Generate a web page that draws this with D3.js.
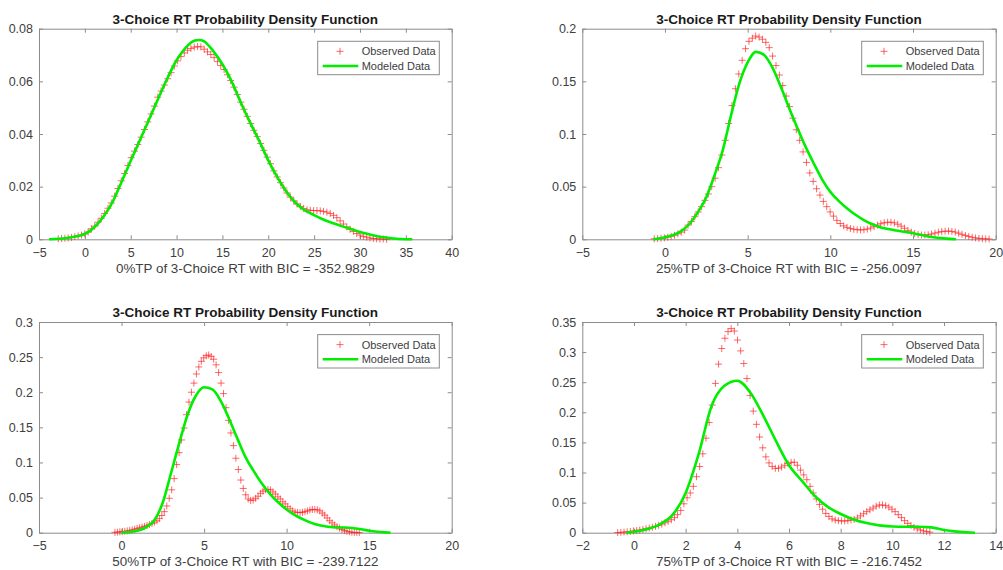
<!DOCTYPE html>
<html>
<head>
<meta charset="utf-8">
<script src="https://cdn.jsdelivr.net/npm/d3@7"></script>
<style>
  body { margin: 0; background: #fff; }
  svg text { font-family: "Liberation Sans", Arial, sans-serif; }
</style>
</head>
<body>
<svg id="chart" width="1003" height="570"></svg>
<script>
// ---- data ----
const chartTitle = "3-Choice RT Probability Density Function";
const legendLabels = ["Observed Data", "Modeled Data"];
const xLabels = [
  "0%TP of 3-Choice RT with BIC = -352.9829",
  "25%TP of 3-Choice RT with BIC = -256.0097",
  "50%TP of 3-Choice RT with BIC = -239.7122",
  "75%TP of 3-Choice RT with BIC = -216.7452"
];

// x ticks / y ticks per panel
const xTicks1 = [-5, 0, 5, 10, 15, 20, 25, 30, 35, 40];
const xTicks2 = [-5, 0, 5, 10, 15, 20];
const xTicks3 = [-5, 0, 5, 10, 15, 20];
const xTicks4 = [-2, 0, 2, 4, 6, 8, 10, 12, 14];
const yTicks1 = [0, 0.02, 0.04, 0.06, 0.08];
const yTicks2 = [0, 0.05, 0.1, 0.15, 0.2];
const yTicks3 = [0, 0.05, 0.1, 0.15, 0.2, 0.25, 0.3];
const yTicks4 = [0, 0.05, 0.1, 0.15, 0.2, 0.25, 0.3, 0.35];

// observed density: evenly spaced grid [first x, last x] + 100 y values
const obsRange1 = [-2.9, 32.9];
const obsY1 = [
  0.0002, 0.0003, 0.0004, 0.0005, 0.0007,
  0.0010, 0.0013, 0.0016, 0.0021, 0.0027,
  0.0040, 0.0050, 0.0065, 0.0080, 0.0098,
  0.0118, 0.0138, 0.0164, 0.0193, 0.0222,
  0.0250, 0.0280, 0.0310, 0.0335, 0.0360,
  0.0388, 0.0417, 0.0446, 0.0476, 0.0506,
  0.0540, 0.0563, 0.0586, 0.0610, 0.0633,
  0.0658, 0.0678, 0.0694, 0.0708, 0.0718,
  0.0725, 0.0730, 0.0732, 0.0731, 0.0722,
  0.0712, 0.0702, 0.0690, 0.0675, 0.0660,
  0.0645, 0.0625, 0.0603, 0.0578, 0.0550,
  0.0521, 0.0494, 0.0467, 0.0440, 0.0414,
  0.0390, 0.0364, 0.0338, 0.0312, 0.0287,
  0.0260, 0.0237, 0.0215, 0.0195, 0.0176,
  0.0160, 0.0146, 0.0134, 0.0125, 0.0117,
  0.0112, 0.0110, 0.0109, 0.0109, 0.0108,
  0.0106, 0.0103, 0.0098, 0.0091, 0.0082,
  0.0070, 0.0058, 0.0047, 0.0038, 0.0030,
  0.0022, 0.0016, 0.0011, 0.0008, 0.0005,
  0.0003, 0.0002, 0.0001, 0.0001, 0.0000
];
const obsRange2 = [-0.65, 19.6];
const obsY2 = [
  0.0005, 0.0007, 0.0010, 0.0014, 0.0020,
  0.0028, 0.0038, 0.0052, 0.0068, 0.0088,
  0.0135, 0.0170, 0.0215, 0.0260, 0.0310,
  0.0370, 0.0430, 0.0500, 0.0580, 0.0680,
  0.0800, 0.0940, 0.1100, 0.1270, 0.1430,
  0.1570, 0.1700, 0.1810, 0.1880, 0.1910,
  0.1930, 0.1920, 0.1900, 0.1870, 0.1820,
  0.1740, 0.1650, 0.1560, 0.1460, 0.1360,
  0.1260, 0.1150, 0.1040, 0.0940, 0.0830,
  0.0730, 0.0630, 0.0550, 0.0480, 0.0420,
  0.0360, 0.0310, 0.0260, 0.0220, 0.0180,
  0.0150, 0.0128, 0.0113, 0.0102, 0.0095,
  0.0091, 0.0089, 0.0091, 0.0097, 0.0107,
  0.0120, 0.0135, 0.0148, 0.0157, 0.0162,
  0.0162, 0.0156, 0.0143, 0.0125, 0.0105,
  0.0085, 0.0068, 0.0055, 0.0046, 0.0041,
  0.0040, 0.0043, 0.0050, 0.0059, 0.0067,
  0.0073, 0.0077, 0.0078, 0.0075, 0.0068,
  0.0058, 0.0047, 0.0036, 0.0027, 0.0019,
  0.0013, 0.0009, 0.0006, 0.0004, 0.0003
];
const obsRange3 = [-0.4, 14.4];
const obsY3 = [
  0.0005, 0.0008, 0.0012, 0.0016, 0.0020,
  0.0026, 0.0033, 0.0041, 0.0050, 0.0060,
  0.0070, 0.0080, 0.0090, 0.0102, 0.0115,
  0.0132, 0.0150, 0.0170, 0.0200, 0.0245,
  0.0300, 0.0380, 0.0490, 0.0610, 0.0770,
  0.0970, 0.1140, 0.1320, 0.1490, 0.1680,
  0.1860, 0.2000, 0.2130, 0.2260, 0.2360,
  0.2440, 0.2490, 0.2520, 0.2530, 0.2510,
  0.2470, 0.2390, 0.2280, 0.2130, 0.1980,
  0.1780, 0.1600, 0.1420, 0.1240, 0.1060,
  0.0900, 0.0750, 0.0630, 0.0540, 0.0480,
  0.0460, 0.0465, 0.0490, 0.0520, 0.0560,
  0.0590, 0.0610, 0.0617, 0.0610, 0.0580,
  0.0550, 0.0510, 0.0480, 0.0440, 0.0410,
  0.0370, 0.0340, 0.0310, 0.0295, 0.0288,
  0.0285, 0.0290, 0.0300, 0.0310, 0.0322,
  0.0330, 0.0332, 0.0325, 0.0310, 0.0280,
  0.0250, 0.0210, 0.0170, 0.0140, 0.0110,
  0.0085, 0.0065, 0.0045, 0.0030, 0.0020,
  0.0012, 0.0007, 0.0004, 0.0002, 0.0001
];
const obsRange4 = [-0.63, 11.45];
const obsY4 = [
  0.0003, 0.0006, 0.0010, 0.0015, 0.0020,
  0.0030, 0.0037, 0.0045, 0.0055, 0.0066,
  0.0078, 0.0090, 0.0105, 0.0123, 0.0143,
  0.0165, 0.0190, 0.0215, 0.0250, 0.0300,
  0.0370, 0.0480, 0.0580, 0.0660, 0.0770,
  0.0930, 0.1100, 0.1310, 0.1570, 0.1830,
  0.2120, 0.2480, 0.2800, 0.3060, 0.3230,
  0.3340, 0.3390, 0.3350, 0.3200, 0.3020,
  0.2810, 0.2560, 0.2280, 0.2020, 0.1800,
  0.1590, 0.1410, 0.1260, 0.1160, 0.1100,
  0.1070, 0.1070, 0.1090, 0.1120, 0.1150,
  0.1170, 0.1170, 0.1120, 0.1040, 0.0960,
  0.0880, 0.0770, 0.0660, 0.0560, 0.0470,
  0.0390, 0.0320, 0.0270, 0.0230, 0.0210,
  0.0200, 0.0195, 0.0195, 0.0200, 0.0210,
  0.0220, 0.0245, 0.0280, 0.0315, 0.0350,
  0.0380, 0.0410, 0.0440, 0.0460, 0.0460,
  0.0450, 0.0425, 0.0390, 0.0350, 0.0300,
  0.0250, 0.0200, 0.0155, 0.0120, 0.0088,
  0.0065, 0.0045, 0.0030, 0.0018, 0.0010
];

// modeled density curves
const modX1 = [-3.9, -2, -1, 0, 1, 2, 3, 4, 5, 6, 7, 8, 9, 10, 11, 12, 12.5, 13, 14, 15, 16, 17, 18, 19, 20, 21, 22, 23, 24, 25, 26, 27, 28, 29, 30, 31, 32, 33, 34, 35.7];
const modY1 = [0, 0.0005, 0.0011, 0.002, 0.0045, 0.0085, 0.014, 0.0218, 0.0298, 0.0376, 0.0455, 0.0535, 0.0612, 0.068, 0.0728, 0.0755, 0.0757, 0.0752, 0.0715, 0.0665, 0.060, 0.052, 0.0445, 0.0375, 0.030, 0.0235, 0.018, 0.0138, 0.011, 0.0092, 0.0075, 0.0062, 0.005, 0.0039, 0.0028, 0.0019, 0.0011, 0.0006, 0.0002, 0];
const modX2 = [-0.7, 0, 0.5, 1, 1.5, 2, 2.5, 3, 3.5, 4, 4.5, 5, 5.5, 6, 6.5, 7, 7.5, 8, 8.5, 9, 9.5, 10, 10.5, 11, 11.5, 12, 12.5, 13, 13.5, 14, 15, 16, 17, 17.6];
const modY2 = [0, 0.002, 0.004, 0.008, 0.015, 0.026, 0.040, 0.061, 0.085, 0.118, 0.148, 0.168, 0.178, 0.175, 0.163, 0.145, 0.125, 0.106, 0.088, 0.072, 0.057, 0.045, 0.0365, 0.0295, 0.0235, 0.0185, 0.0145, 0.0115, 0.0097, 0.0083, 0.0058, 0.0025, 0.0006, 0];
const modX3 = [0, 0.5, 1, 1.5, 2, 2.5, 3, 3.5, 4, 4.5, 5, 5.5, 6, 6.5, 7, 7.5, 8, 8.5, 9, 9.5, 10, 10.5, 11, 11.5, 12, 12.5, 13, 13.5, 14, 14.5, 15, 15.5, 16, 16.3];
const modY3 = [0, 0.001, 0.003, 0.008, 0.018, 0.043, 0.085, 0.128, 0.168, 0.195, 0.207, 0.204, 0.188, 0.163, 0.135, 0.108, 0.088, 0.07, 0.055, 0.043, 0.033, 0.025, 0.019, 0.014, 0.0105, 0.0085, 0.0075, 0.0075, 0.0068, 0.005, 0.0028, 0.0013, 0.0004, 0];
const modX4 = [-0.3, 0, 0.5, 1, 1.5, 2, 2.5, 3, 3.5, 4, 4.5, 5, 5.5, 6, 6.5, 7, 7.5, 8, 8.5, 9, 9.5, 10, 10.5, 11, 11.5, 12, 12.5, 13, 13.2];
const modY4 = [0, 0.0017, 0.0058, 0.014, 0.030, 0.066, 0.130, 0.210, 0.244, 0.2525, 0.233, 0.195, 0.152, 0.112, 0.086, 0.061, 0.043, 0.031, 0.022, 0.016, 0.0122, 0.0102, 0.0098, 0.0098, 0.0088, 0.0044, 0.0018, 0.0003, 0];

// ---- layout ----
const svg = d3.select("#chart");
const colLeft = [39, 582.3], colRight = [451.7, 995.7];
const rowTop = [28.7, 322], rowBottom = [239.3, 532.7];

const panels = [
  { col: 0, row: 0, xDomain: [-5, 40], yDomain: [0, 0.08], xTicks: xTicks1, yTicks: yTicks1, obsRange: obsRange1, obsY: obsY1, modX: modX1, modY: modY1, xLabel: xLabels[0] },
  { col: 1, row: 0, xDomain: [-5, 20], yDomain: [0, 0.2], xTicks: xTicks2, yTicks: yTicks2, obsRange: obsRange2, obsY: obsY2, modX: modX2, modY: modY2, xLabel: xLabels[1] },
  { col: 0, row: 1, xDomain: [-5, 20], yDomain: [0, 0.3], xTicks: xTicks3, yTicks: yTicks3, obsRange: obsRange3, obsY: obsY3, modX: modX3, modY: modY3, xLabel: xLabels[2] },
  { col: 1, row: 1, xDomain: [-2, 14], yDomain: [0, 0.35], xTicks: xTicks4, yTicks: yTicks4, obsRange: obsRange4, obsY: obsY4, modX: modX4, modY: modY4, xLabel: xLabels[3] }
];

const axisColor = "#8c8c8c";
const textColor = "#404040";
const plusPath = "M-3.5,0H3.5M0,-3.5V3.5";

panels.forEach(drawPanel);

function drawPanel(p) {
  const left = colLeft[p.col], right = colRight[p.col];
  const top = rowTop[p.row], bottom = rowBottom[p.row];

  const x = d3.scaleLinear().domain(p.xDomain).range([left, right]);
  const y = d3.scaleLinear().domain(p.yDomain).range([bottom, top]);
  const g = svg.append("g");

  // ticks point inward on all four sides (matlab box style)
  const styleAxis = sel => {
    sel.selectAll(".domain").attr("stroke", axisColor);
    sel.selectAll(".tick line").attr("stroke", axisColor);
    sel.selectAll(".tick text").attr("fill", textColor).attr("font-size", 12.5);
  };
  g.append("g").attr("transform", `translate(0,${bottom})`)
    .call(d3.axisBottom(x).tickValues(p.xTicks).tickFormat(d3.format("")).tickSizeInner(-4).tickSizeOuter(0).tickPadding(8.5))
    .call(styleAxis);
  g.append("g").attr("transform", `translate(0,${top})`)
    .call(d3.axisTop(x).tickValues(p.xTicks).tickFormat("").tickSizeInner(-4).tickSizeOuter(0))
    .call(styleAxis);
  g.append("g").attr("transform", `translate(${left},0)`)
    .call(d3.axisLeft(y).tickValues(p.yTicks).tickFormat(d => +d.toFixed(2) + "").tickSizeInner(-4).tickSizeOuter(0).tickPadding(6))
    .call(styleAxis);
  g.append("g").attr("transform", `translate(${right},0)`)
    .call(d3.axisRight(y).tickValues(p.yTicks).tickFormat("").tickSizeInner(-4).tickSizeOuter(0))
    .call(styleAxis);

  // observed points (red plus markers)
  const step = (p.obsRange[1] - p.obsRange[0]) / (p.obsY.length - 1);
  const obs = p.obsY.map((v, i) => ({ x: p.obsRange[0] + i * step, y: v }));
  g.append("g").selectAll("path")
    .data(obs)
    .enter()
    .append("path")
    .attr("d", plusPath)
    .attr("transform", d => `translate(${x(d.x)},${y(d.y)})`)
    .attr("fill", "none")
    .attr("stroke", "#ff2020")
    .attr("stroke-opacity", 0.75)
    .attr("stroke-width", 0.9);

  // modeled curve
  const mod = p.modX.map((v, i) => ({ x: v, y: p.modY[i] }));
  g.append("path")
    .datum(mod)
    .attr("d", d3.line().x(d => x(d.x)).y(d => y(d.y)).curve(d3.curveMonotoneX))
    .attr("fill", "none")
    .attr("stroke", "#00ee00")
    .attr("stroke-width", 2.6)
    .attr("stroke-linejoin", "round");

  // title and x label
  g.append("text")
    .attr("x", (left + right) / 2)
    .attr("y", top - 5)
    .attr("text-anchor", "middle")
    .attr("font-size", 13.5)
    .attr("font-weight", "bold")
    .attr("fill", "#1a1a1a")
    .text(chartTitle);
  g.append("text")
    .attr("x", (left + right) / 2)
    .attr("y", bottom + 33.5)
    .attr("text-anchor", "middle")
    .attr("font-size", 13.4)
    .attr("fill", textColor)
    .text(p.xLabel);

  // legend box
  const lw = 121.6, lh = 33.4;
  const lx = right - 12.4 - lw, ly = top + 12.6;
  const lg = g.append("g").attr("transform", `translate(${lx},${ly})`);
  lg.append("rect")
    .attr("width", lw).attr("height", lh)
    .attr("fill", "#fff")
    .attr("stroke", axisColor)
    .attr("stroke-width", 1);
  lg.append("path")
    .attr("d", plusPath)
    .attr("transform", "translate(22.3,10)")
    .attr("fill", "none")
    .attr("stroke", "#ff2020")
    .attr("stroke-opacity", 0.75)
    .attr("stroke-width", 0.9);
  lg.append("line")
    .attr("x1", 5).attr("x2", 40.6)
    .attr("y1", 24.7).attr("y2", 24.7)
    .attr("stroke", "#00ee00")
    .attr("stroke-width", 2.6);
  lg.selectAll("text.leg")
    .data(legendLabels)
    .enter()
    .append("text")
    .attr("class", "leg")
    .attr("x", 44)
    .attr("y", (d, i) => 14 + i * 14.7)
    .attr("font-size", 11)
    .attr("fill", textColor)
    .text(d => d);
}
</script>
</body>
</html>
